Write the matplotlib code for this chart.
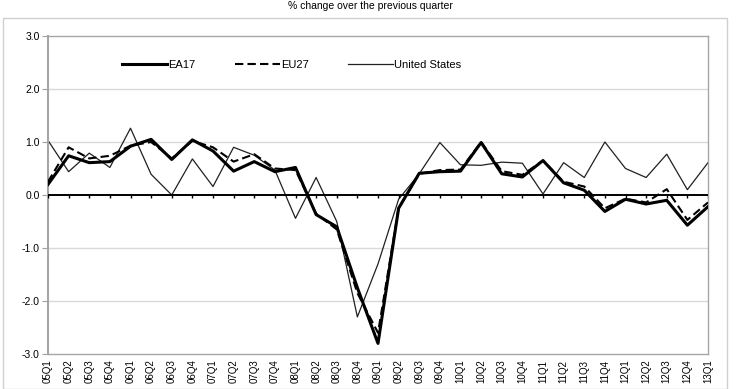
import numpy as np
import matplotlib
matplotlib.use('Agg')
import matplotlib.pyplot as plt
from matplotlib.patches import Rectangle

plt.rcParams['font.family'] = ['Liberation Sans', 'DejaVu Sans']

# quarters 05Q1 .. 13Q1
quarters = ['%02dQ%d' % (y, q) for y in range(5, 13) for q in range(1, 5)] + ['13Q1']

ea17 = [0.2, 0.74, 0.61, 0.63, 0.92, 1.05, 0.67, 1.04, 0.83, 0.45, 0.63, 0.44,
        0.52, -0.37, -0.6, -1.75, -2.8, -0.25, 0.41, 0.44, 0.45, 0.99, 0.4, 0.34,
        0.65, 0.23, 0.09, -0.31, -0.08, -0.17, -0.1, -0.57, -0.22]
eu27 = [0.25, 0.9, 0.69, 0.74, 0.93, 1.0, 0.69, 1.02, 0.9, 0.63, 0.77, 0.5,
        0.47, -0.35, -0.65, -1.85, -2.6, -0.25, 0.4, 0.47, 0.48, 1.0, 0.45, 0.38,
        0.65, 0.25, 0.16, -0.25, -0.07, -0.14, 0.11, -0.47, -0.14]
us = [1.03, 0.44, 0.79, 0.52, 1.26, 0.39, 0.0, 0.68, 0.16, 0.9, 0.75, 0.47,
      -0.44, 0.33, -0.5, -2.3, -1.3, -0.08, 0.4, 0.99, 0.57, 0.56, 0.62, 0.6,
      0.02, 0.61, 0.33, 1.0, 0.5, 0.33, 0.77, 0.1, 0.61]

y_ticks = [-3.0, -2.0, -1.0, 0.0, 1.0, 2.0, 3.0]

x = np.arange(len(quarters))

fig = plt.figure(figsize=(7.4, 3.89), dpi=100)
ax = fig.add_axes([48/740, 1 - 354/389, 660/740, 318/389])

# outer frame around the chart
fig.patches.append(Rectangle((3/740, 0), 724/740, 1 - 18/389, transform=fig.transFigure,
                             fill=False, edgecolor='#d0d0d0', linewidth=1.0))
fig.text(0.5, 1 - 1/389, '% change over the previous quarter', ha='center', va='top',
         fontsize=7.5)

for v in [1, 2, -1, -2]:
    ax.axhline(v, color='#d9d9d9', linewidth=1.0, zorder=0)

ax.plot(x, us, color='#202020', linewidth=0.9, label='United States', zorder=2)
ax.plot(x, eu27, color='black', linewidth=1.5, linestyle=(0, (4, 2)), label='EU27', zorder=3)
ax.plot(x, ea17, color='black', linewidth=2.2, label='EA17', zorder=4)

# zero axis with small tick marks
ax.axhline(0, color='black', linewidth=1.4, zorder=5)
ax.vlines(x, -0.06, 0, color='black', linewidth=1.0, zorder=5)

ax.set_xlim(0, len(quarters) - 1)
ax.set_ylim(-3, 3)
ax.set_yticks(y_ticks)
ax.set_yticklabels(['%.1f' % v for v in y_ticks], fontsize=7.5)
ax.set_xticks(x)
ax.set_xticklabels(quarters, rotation=90, fontsize=7)
ax.tick_params(axis='x', length=0, pad=4)
ax.tick_params(axis='y', length=4, color='#a0a0a0', pad=2)

for s in ax.spines.values():
    s.set_color('#a6a6a6')
    s.set_linewidth(1.0)
ax.spines['left'].set_linewidth(1.5)

handles, labels = ax.get_legend_handles_labels()
order = [2, 1, 0]
ax.legend([handles[i] for i in order], [labels[i] for i in order], loc='upper left',
          bbox_to_anchor=(0.106, 0.94), ncol=3, frameon=False, fontsize=8,
          handlelength=4.0, handletextpad=0.1, columnspacing=3.6, borderaxespad=0)

fig.savefig('out.png', dpi=100)
